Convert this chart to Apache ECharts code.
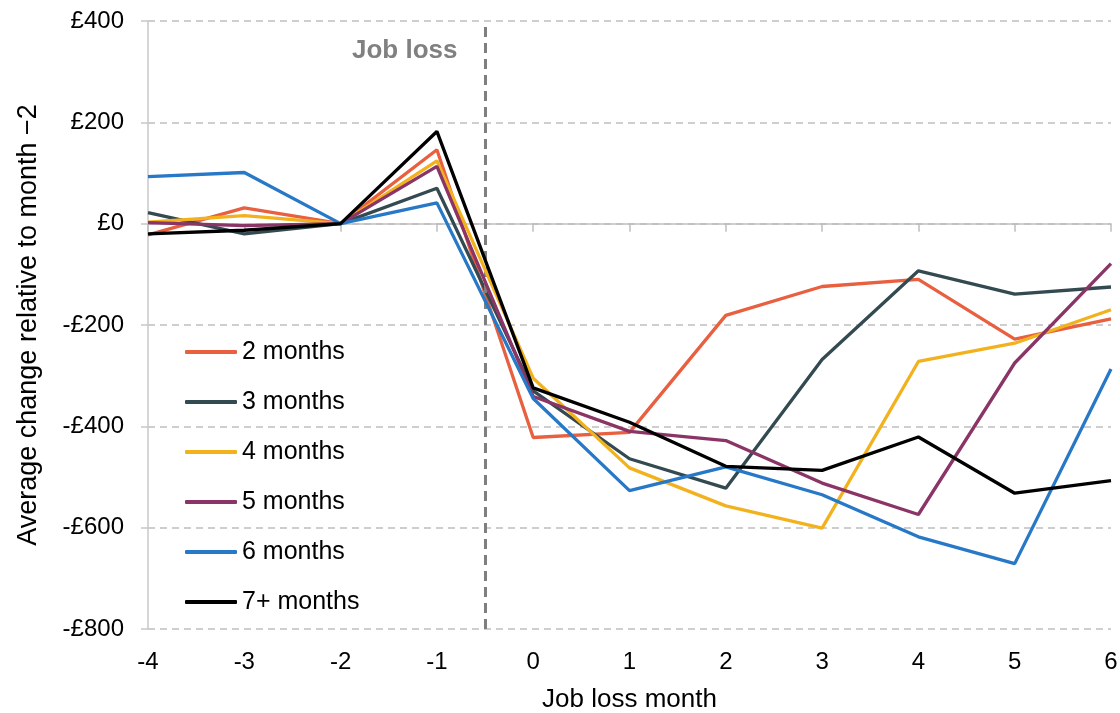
<!DOCTYPE html>
<html>
<head>
<meta charset="utf-8">
<script src="https://cdn.jsdelivr.net/npm/echarts@6/dist/echarts.min.js"></script>
<style>
html,body{margin:0;padding:0;background:#fff;}
#chart{width:1120px;height:713px;}
</style>
</head>
<body>
<div id="chart"></div>
<script>
var months = [-4, -3, -2, -1, 0, 1, 2, 3, 4, 5, 6];
var seriesNames = ['2 months', '3 months', '4 months', '5 months', '6 months', '7+ months'];
var seriesColors = ['#E8603F', '#344A51', '#F2B21E', '#8A3566', '#2878C8', '#000000'];

var twoMonths   = [-22, 31, 0, 146, -422, -412, -181, -124, -110, -228, -188];
var threeMonths = [22, -20, 0, 70, -330, -464, -522, -268, -93, -139, -125];
var fourMonths  = [3, 16, 0, 124, -305, -482, -557, -601, -272, -236, -170];
var fiveMonths  = [2, -4, 0, 113, -341, -410, -428, -512, -574, -275, -79];
var sixMonths   = [93, 101, 0, 41, -345, -527, -480, -535, -618, -671, -287];
var sevenMonths = [-20, -13, 0, 182, -324, -392, -479, -487, -421, -532, -507];

var allValues = [twoMonths, threeMonths, fourMonths, fiveMonths, sixMonths, sevenMonths];

var yTicks = [-800, -600, -400, -200, 0, 200, 400];
var jobLossAt = -0.5;

var chart = echarts.init(document.getElementById('chart'));

var font = 'Liberation Sans, Arial, sans-serif';

var series = [];
for (var i = 0; i < seriesNames.length; i++) {
	var pts = [];
	for (var j = 0; j < months.length; j++) {
		pts.push([months[j], allValues[i][j]]);
	}
	var s = {
		name: seriesNames[i],
		type: 'line',
		data: pts,
		symbol: 'none',
		xAxisIndex: 0,
		lineStyle: {color: seriesColors[i], width: 3.3},
		itemStyle: {color: seriesColors[i]},
		z: 3 + i
	};
	if (i == 0) {
		s.markLine = {
			silent: true,
			symbol: 'none',
			label: {show: false},
			lineStyle: {color: '#7f7f7f', width: 3, type: [10, 6]},
			data: [{xAxis: jobLossAt}]
		};
	}
	series.push(s);
}

var option = {
	animation: false,
	grid: {left: 148, right: 9, top: 21, bottom: 84, outerBoundsMode: 'none', containLabel: false},
	legend: {
		orient: 'vertical',
		left: 185,
		top: 339,
		padding: 0,
		icon: 'roundRect',
		itemWidth: 52,
		itemHeight: 4,
		itemGap: 24,
		textStyle: {fontFamily: font, fontSize: 25, color: '#000', lineHeight: 26},
		data: seriesNames
	},
	xAxis: [{
		type: 'value',
		min: -4,
		max: 6,
		interval: 1,
		position: 'bottom',
		axisLine: {show: false, onZero: false},
		axisTick: {show: false},
		splitLine: {show: false},
		axisLabel: {fontFamily: font, fontSize: 24, color: '#000', margin: 21},
		name: 'Job loss month',
		nameLocation: 'middle',
		nameGap: 58,
		nameTextStyle: {fontFamily: font, fontSize: 26, color: '#000'}
	}, {
		type: 'value',
		min: -4,
		max: 6,
		interval: 1,
		position: 'bottom',
		axisLine: {show: true, onZero: true, lineStyle: {color: '#bfbfbf', width: 1.5}},
		axisTick: {show: true, length: 8, lineStyle: {color: '#bfbfbf', width: 1.5}},
		splitLine: {show: false},
		axisLabel: {show: false}
	}],
	yAxis: {
		type: 'value',
		min: -800,
		max: 400,
		interval: 200,
		axisLine: {show: true, onZero: false, lineStyle: {color: '#c8c8c8', width: 1.5}},
		axisTick: {show: true, length: 7, lineStyle: {color: '#c8c8c8', width: 1.5}},
		splitLine: {show: true, lineStyle: {color: '#bfbfbf', width: 1.5, type: [7, 5]}},
		axisLabel: {
			fontFamily: font, fontSize: 24, color: '#000', margin: 24,
			formatter: function (v) {
				return v < 0 ? '-£' + Math.abs(v) : '£' + v;
			}
		},
		name: 'Average change relative to month \u22122',
		nameLocation: 'middle',
		nameGap: 106,
		nameTextStyle: {fontFamily: font, fontSize: 27, color: '#000'}
	},
	graphic: [{
		type: 'text',
		left: 352,
		top: 38,
		style: {text: 'Job loss', fontFamily: font, fontSize: 26, fontWeight: 'bold', fill: '#808080'}
	}],
	series: series
};

chart.setOption(option);
</script>
</body>
</html>
